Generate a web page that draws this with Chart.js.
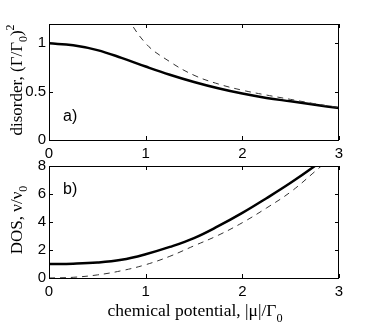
<!DOCTYPE html>
<html>
<head>
<meta charset="utf-8">
<script src="https://cdn.jsdelivr.net/npm/chart.js@4/dist/chart.umd.min.js"></script>
<style>
  html, body { margin: 0; padding: 0; background: #fff; }
  #wrap { position: relative; width: 374px; height: 332px; }
  canvas { position: absolute; left: 0; top: 0; }
</style>
</head>
<body>
<div id="wrap">
  <canvas id="disorder-chart" width="374" height="332"></canvas>
  <canvas id="dos-chart" width="374" height="332"></canvas>
</div>
<script>
// chemical potential |mu|/Gamma0 sample points
const mu = [0, 0.25, 0.5, 0.75, 1, 1.25, 1.5, 1.75, 2, 2.25, 2.5, 2.75, 3];
const muDashTop = [0.75, 1, 1.25, 1.5, 1.75, 2, 2.25, 2.5, 2.75, 3];

// panel a) disorder (Gamma/Gamma0)^2
const disorderSolid  = [1.0, 0.98, 0.93, 0.85, 0.76, 0.675, 0.6, 0.535, 0.48, 0.435, 0.4, 0.365, 0.33];
const disorderDashed = [1.36, 1.0, 0.81, 0.67, 0.58, 0.515, 0.465, 0.42, 0.375, 0.335];

// panel b) DOS nu/nu0
const dosSolid  = [1.0, 1.02, 1.1, 1.3, 1.7, 2.22, 2.85, 3.7, 4.65, 5.7, 6.8, 8.0, 9.3];
const dosDashed = [0, 0.05, 0.22, 0.52, 0.95, 1.55, 2.3, 3.05, 3.95, 5.0, 6.15, 7.6, 9.1];

const xTicks = [0, 1, 2, 3];
const yTicksTop = [0, 0.5, 1];
const yTicksBottom = [0, 2, 4, 6, 8];

const SANS = 'Liberation Sans, Arial, Helvetica, sans-serif';
const SERIF = 'Liberation Serif, Times New Roman, serif';

const toPoints = (xs, ys) => xs.map((x, i) => ({ x, y: ys[i] }));

// text with sub/superscripts, centred on (cx, cy), baseline at cy
function drawRich(ctx, parts, size, cx, cy, angle) {
  ctx.save();
  ctx.translate(cx, cy);
  ctx.rotate(angle);
  ctx.fillStyle = '#000';
  ctx.textBaseline = 'alphabetic';
  let total = 0;
  parts.forEach((p) => {
    p.size = p.sub || p.sup ? size * 0.7 : size;
    ctx.font = `${p.size}px ${SERIF}`;
    p.w = ctx.measureText(p.t).width;
    total += p.w;
  });
  let x = -total / 2;
  parts.forEach((p) => {
    ctx.font = `${p.size}px ${SERIF}`;
    const dy = p.sub ? size * 0.32 : p.sup ? -size * 0.5 : 0;
    ctx.fillText(p.t, x, dy);
    x += p.w;
  });
  ctx.restore();
}

// box frame with inward ticks on all four sides, plus labels
const frame = {
  id: 'frame',
  afterDraw(chart, args, opts) {
    const { ctx, chartArea: a, scales: { x, y } } = chart;
    ctx.save();
    ctx.strokeStyle = '#000';
    ctx.lineWidth = 1;
    ctx.strokeRect(a.left + 0.5, a.top + 0.5, a.right - a.left - 1, a.bottom - a.top);
    const tl = 4;
    ctx.beginPath();
    x.ticks.forEach((t) => {
      const px = Math.round(x.getPixelForValue(t.value)) + 0.5;
      ctx.moveTo(px, a.bottom); ctx.lineTo(px, a.bottom - tl);
      ctx.moveTo(px, a.top); ctx.lineTo(px, a.top + tl);
    });
    y.ticks.forEach((t) => {
      const py = Math.round(y.getPixelForValue(t.value)) + 0.5;
      ctx.moveTo(a.left, py); ctx.lineTo(a.left + tl, py);
      ctx.moveTo(a.right, py); ctx.lineTo(a.right - tl, py);
    });
    ctx.stroke();

    ctx.fillStyle = '#000';
    ctx.font = `16px ${SANS}`;
    ctx.textBaseline = 'alphabetic';
    ctx.fillText(opts.panel, a.left + 14, opts.panelY);

    drawRich(ctx, opts.yTitle, 17, opts.yTitleX, (a.top + a.bottom) / 2 - 2, -Math.PI / 2);
    if (opts.xTitle) drawRich(ctx, opts.xTitle, 17.5, (a.left + a.right) / 2 + 1, opts.xTitleY, 0);
    ctx.restore();
  },
};

function baseOptions(yMax, yStep, yTicks, padding) {
  return {
    responsive: false,
    devicePixelRatio: 1,
    animation: false,
    layout: { padding },
    plugins: { legend: { display: false }, tooltip: { enabled: false } },
    scales: {
      x: {
        type: 'linear',
        min: 0,
        max: 3,
        grid: { display: false, drawTicks: false },
        border: { display: false },
        ticks: { stepSize: 1, color: '#000', padding: 5, font: { family: SANS, size: 15 }, callback: (v) => String(v) },
        afterBuildTicks: (s) => { s.ticks = xTicks.map((v) => ({ value: v })); },
        afterFit: (s) => { s.height = 26; },
      },
      y: {
        type: 'linear',
        min: 0,
        max: yMax,
        grid: { display: false, drawTicks: false },
        border: { display: false },
        ticks: { stepSize: yStep, color: '#000', padding: 3, font: { family: SANS, size: 15 }, callback: (v) => String(v) },
        afterBuildTicks: (s) => { s.ticks = yTicks.map((v) => ({ value: v })); },
        afterFit: (s) => { s.width = 30; },
      },
    },
  };
}

const solidStyle = { borderColor: '#000', borderWidth: 2.5, pointRadius: 0, tension: 0.4, fill: false };
const dashStyle = { borderColor: '#333', borderWidth: 1, borderDash: [6, 5], pointRadius: 0, tension: 0.4, fill: false };

// Panel a)
const optsA = baseOptions(1.2, 0.5, yTicksTop, { top: 24, left: 19, right: 35, bottom: 166 });
optsA.plugins.frame = {
  panel: 'a)',
  panelY: 121,
  yTitleX: 22,
  yTitle: [{ t: 'disorder, (Γ/Γ' }, { t: '0', sub: true }, { t: ')' }, { t: '2', sup: true }],
};
new Chart(document.getElementById('disorder-chart'), {
  type: 'line',
  data: {
    datasets: [
      { ...dashStyle, data: toPoints(muDashTop, disorderDashed) },
      { ...solidStyle, data: toPoints(mu, disorderSolid) },
    ],
  },
  options: optsA,
  plugins: [frame],
});

// Panel b)
const optsB = baseOptions(8, 2, yTicksBottom, { top: 166, left: 19, right: 35, bottom: 28 });
optsB.plugins.frame = {
  panel: 'b)',
  panelY: 194,
  yTitleX: 22,
  yTitle: [{ t: 'DOS, ν/ν' }, { t: '0', sub: true }],
  xTitle: [{ t: 'chemical potential, |μ|/Γ' }, { t: '0', sub: true }],
  xTitleY: 316,
};
new Chart(document.getElementById('dos-chart'), {
  type: 'line',
  data: {
    datasets: [
      { ...dashStyle, data: toPoints(mu, dosDashed) },
      { ...solidStyle, data: toPoints(mu, dosSolid) },
    ],
  },
  options: optsB,
  plugins: [frame],
});
</script>
</body>
</html>
